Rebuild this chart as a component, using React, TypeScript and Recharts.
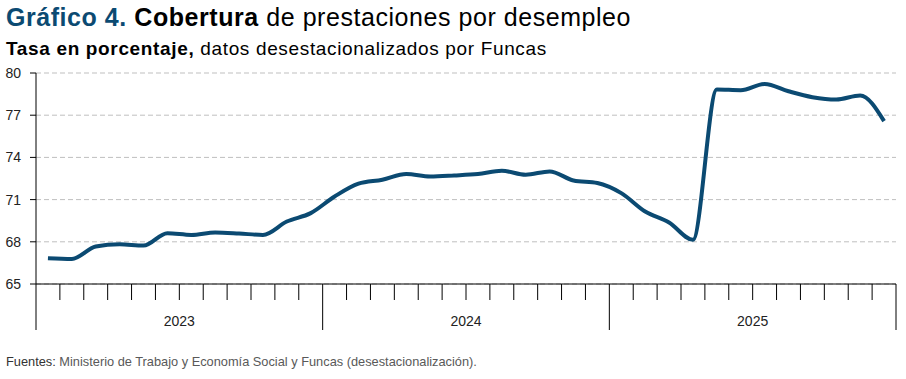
import { CartesianGrid, Line, LineChart, XAxis, YAxis } from "recharts";

// Cobertura de prestaciones por desempleo, ene-2023 a dic-2025 (mensual)
const years = ["2023", "2024", "2025"];
const cobertura = [
  66.83, 66.78, 67.66, 67.83, 67.73, 68.61, 68.49, 68.66, 68.59, 68.49, 69.44, 70.04,
  71.22, 72.13, 72.41, 72.82, 72.65, 72.72, 72.82, 73.05, 72.77, 73.0, 72.36, 72.18,
  71.46, 70.15, 69.37, 68.14, 78.83, 78.78, 79.22, 78.7, 78.28, 78.11, 78.4, 76.58,
];
const yTicks = [65, 68, 71, 74, 77, 80];

const data = cobertura.map((v, i) => ({ t: i + 0.5, v }));
const monthTicks = Array.from({ length: cobertura.length + 1 }, (_, i) => i);

const FONT = "'Liberation Sans', Arial, sans-serif";
const BLUE = "#0b4a72";

function MonthTick({ x, y, payload }: any) {
  const i = payload.value as number;
  const isYear = i % 12 === 0;
  const label = i % 12 === 6 ? years[Math.floor(i / 12)] : null;
  return (
    <g>
      <line x1={x} x2={x} y1={y} y2={y + (isYear ? 46 : 16)} stroke="#000" strokeWidth={1} />
      {label && (
        <text x={x} y={y + 42} textAnchor="middle" fontSize={14} fill="#222">
          {label}
        </text>
      )}
    </g>
  );
}

export default function App() {
  return (
    <div
      style={{
        position: "absolute",
        left: 0,
        top: 0,
        width: 906,
        height: 379,
        background: "#fff",
        fontFamily: FONT,
      }}
    >
      <div
        style={{
          position: "absolute",
          left: 6,
          top: 5,
          fontSize: 25,
          lineHeight: "25px",
          letterSpacing: 0.55,
          whiteSpace: "nowrap",
        }}
      >
        <b style={{ color: BLUE }}>Gráfico 4.</b> <b style={{ color: "#000" }}>Cobertura</b>{" "}
        <span style={{ color: "#000" }}>de prestaciones por desempleo</span>
      </div>
      <div
        style={{
          position: "absolute",
          left: 6,
          top: 39,
          fontSize: 19,
          lineHeight: "19px",
          letterSpacing: 0.65,
          whiteSpace: "nowrap",
        }}
      >
        <b>Tasa en porcentaje,</b> datos desestacionalizados por Funcas
      </div>
      <LineChart
        width={906}
        height={379}
        data={data}
        margin={{ top: 73, right: 10, left: 0, bottom: 45 }}
      >
        <CartesianGrid vertical={false} stroke="#bfbfbf" strokeDasharray="5 3" />
        <XAxis
          dataKey="t"
          type="number"
          domain={[0, cobertura.length]}
          ticks={monthTicks}
          interval={0}
          height={50}
          tickSize={0}
          tickMargin={0}
          tickLine={false}
          axisLine={{ stroke: "#000" }}
          tick={<MonthTick />}
        />
        <YAxis
          domain={[65, 80]}
          ticks={yTicks}
          width={36}
          interval={0}
          tickSize={6}
          tickMargin={9}
          axisLine={{ stroke: "#000" }}
          tickLine={{ stroke: "#000" }}
          tick={{ fontSize: 14, fill: "#222" }}
        />
        <Line
          dataKey="v"
          type="monotone"
          stroke={BLUE}
          strokeWidth={4}
          dot={false}
          isAnimationActive={false}
        />
      </LineChart>
      <div
        style={{
          position: "absolute",
          left: 6,
          top: 355,
          fontSize: 12.8,
          lineHeight: "14px",
          whiteSpace: "nowrap",
          color: "#595959",
        }}
      >
        <span style={{ color: "#333" }}>Fuentes:</span> Ministerio de Trabajo y Economía Social y Funcas
        (desestacionalización).
      </div>
    </div>
  );
}
